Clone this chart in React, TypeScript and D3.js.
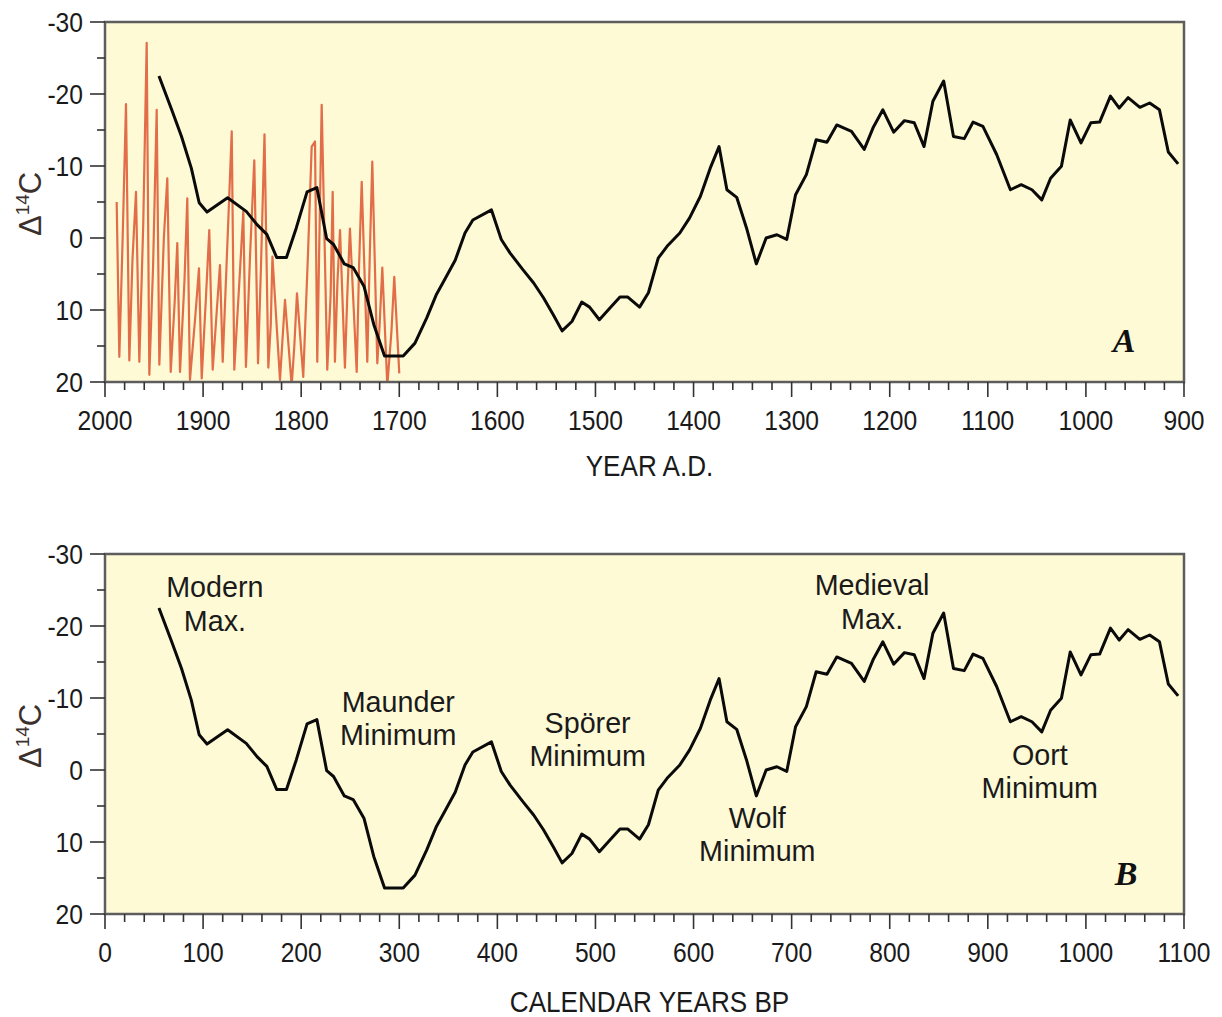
import React from "react";
import * as d3 from "d3";

// Smoothed Δ14C record (calendar years BP, per mil)
const bpYears = [55, 68, 78, 88, 96, 104, 125, 144, 155, 165, 175, 185, 195, 206, 216, 226, 233, 244, 253, 264, 274, 285, 304, 316, 328, 338, 347, 357, 367, 375, 394, 404, 413, 426, 437, 447, 457, 466, 476, 486, 494, 504, 515, 525, 533, 545, 554, 564, 573, 586, 596, 607, 617, 626, 634, 644, 654, 664, 674, 685, 695, 704, 715, 725, 736, 746, 761, 774, 783, 793, 804, 815, 825, 835, 844, 855, 865, 876, 885, 895, 909, 923, 934, 945, 955, 964, 975, 984, 995, 1005, 1014, 1025, 1034, 1043, 1055, 1065, 1075, 1084, 1094];
const delta14C = [-22.5, -17.8, -14.1, -9.7, -4.9, -3.6, -5.6, -3.7, -1.85, -0.5, 2.7, 2.7, -1.4, -6.4, -7.0, 0.1, 0.9, 3.6, 4.1, 6.7, 12.0, 16.4, 16.4, 14.6, 11.1, 7.8, 5.6, 3.1, -0.7, -2.5, -3.9, 0.2, 2.1, 4.4, 6.25, 8.3, 10.65, 12.9, 11.6, 8.9, 9.6, 11.35, 9.7, 8.2, 8.2, 9.6, 7.6, 2.8, 1.15, -0.7, -2.8, -5.8, -9.7, -12.7, -6.7, -5.65, -1.4, 3.6, 0.0, -0.45, 0.2, -6.0, -8.8, -13.65, -13.3, -15.7, -14.8, -12.3, -15.3, -17.8, -14.7, -16.3, -16.0, -12.7, -19.0, -21.8, -14.1, -13.8, -16.1, -15.5, -11.6, -6.7, -7.4, -6.7, -5.3, -8.3, -9.95, -16.4, -13.2, -16.0, -16.1, -19.7, -18.05, -19.5, -18.15, -18.75, -17.8, -11.95, -10.3];

// Annual-resolution record (years A.D.)
const redYears = [1988.1, 1985.4, 1982.0, 1978.6, 1975.2, 1972.0, 1968.4, 1965.0, 1961.0, 1957.5, 1954.8, 1951.0, 1947.3, 1944.6, 1940.0, 1936.5, 1933.0, 1929.0, 1926.3, 1923.5, 1919.0, 1916.1, 1913.4, 1908.0, 1904.2, 1901.4, 1897.0, 1893.7, 1890.2, 1886.0, 1882.8, 1880.0, 1875.0, 1870.8, 1868.2, 1863.0, 1859.0, 1856.3, 1852.0, 1847.8, 1844.0, 1841.0, 1837.4, 1833.5, 1831.0, 1829.3, 1821.6, 1819.0, 1816.5, 1809.7, 1807.0, 1804.3, 1797.9, 1793.0, 1789.3, 1785.9, 1783.6, 1779.1, 1773.4, 1770.0, 1767.9, 1765.6, 1763.0, 1760.4, 1755.4, 1753.0, 1750.3, 1743.4, 1741.0, 1738.3, 1732.6, 1730.0, 1727.5, 1722.4, 1720.0, 1717.3, 1712.2, 1708.0, 1705.1, 1700.0];
const redValues = [-5.0, 16.5, 0.0, -18.6, 17.0, 3.0, -6.4, 17.2, -2.0, -27.1, 19.0, 4.0, -17.8, 17.6, 0.0, -8.3, 18.6, 9.0, 0.7, 18.6, 6.0, -5.5, 19.7, 11.0, 4.2, 19.5, 8.0, -1.1, 18.3, 10.0, 3.75, 17.2, 0.0, -14.8, 18.3, 6.0, -3.7, 17.9, 2.0, -10.8, 17.4, 4.0, -14.4, 18.0, 12.0, 2.6, 19.7, 14.0, 8.6, 20.5, 15.0, 7.7, 19.3, 2.0, -12.7, -13.4, 17.2, -18.5, 18.3, 8.0, -6.4, 17.2, 6.0, -1.1, 18.0, 8.0, -1.3, 18.6, 4.0, -7.8, 17.2, 2.0, -10.6, 17.4, 12.0, 4.1, 20.5, 13.0, 5.4, 18.8];

const yTicks = [-30, -20, -10, 0, 10, 20];
const yMinor = d3.range(-30, 20.01, 5);
const adTicks = [2000, 1900, 1800, 1700, 1600, 1500, 1400, 1300, 1200, 1100, 1000, 900];
const bpTicks = [0, 100, 200, 300, 400, 500, 600, 700, 800, 900, 1000, 1100];
const annotations = [
  { lines: ["Modern", "Max."], bp: 112, v: -24.0 },
  { lines: ["Maunder", "Minimum"], bp: 299, v: -8.1 },
  { lines: ["Spörer", "Minimum"], bp: 492, v: -5.2 },
  { lines: ["Wolf", "Minimum"], bp: 665, v: 8.0 },
  { lines: ["Medieval", "Max."], bp: 782, v: -24.3 },
  { lines: ["Oort", "Minimum"], bp: 953, v: -0.7 },
];

const FONT = "'Liberation Sans', Arial, sans-serif";
const BG = "#FFFAD6";
const L = 105, R = 1184;
const INK = "#1a1a1a";

function Txt({ x, y, size, sx = 0.88, anchor = "middle", children, fill = INK }) {
  return (
    <text transform={`translate(${x},${y}) scale(${sx},1)`} textAnchor={anchor} fontFamily={FONT} fontSize={size} fill={fill}>
      {children}
    </text>
  );
}

function Panel({ top, bottom, xScale, ticks, minorStep, title, titleY, letter, children, id }) {
  const y = d3.scaleLinear().domain([-30, 20]).range([top, bottom]);
  const [d0, d1] = xScale.domain();
  const minor = d3.range(Math.min(d0, d1), Math.max(d0, d1) + 0.01, minorStep);
  return (
    <g>
      <defs>
        <clipPath id={id}>
          <rect x={L} y={top} width={R - L} height={bottom - top} />
        </clipPath>
      </defs>
      <rect x={L} y={top} width={R - L} height={bottom - top} fill={BG} />
      <g clipPath={`url(#${id})`}>{children(y)}</g>
      <rect x={L} y={top} width={R - L} height={bottom - top} fill="none" stroke="#5d5d5d" strokeWidth={2.5} />
      {yMinor.map((t) => (
        <line key={"ym" + t} x1={L - (t % 10 === 0 ? 15 : 8)} x2={L} y1={y(t)} y2={y(t)} stroke="#333" strokeWidth={1.6} />
      ))}
      {yTicks.map((t) => (
        <Txt key={"yt" + t} x={83} y={y(t) + 10} size={28} anchor="end">
          {t < 0 ? "-" + Math.abs(t) : String(t)}
        </Txt>
      ))}
      {minor.map((t) => (
        <line key={"xm" + t} x1={xScale(t)} x2={xScale(t)} y1={bottom} y2={bottom + (t % 100 === 0 ? 15 : 8)} stroke="#333" strokeWidth={1.6} />
      ))}
      {ticks.map((t) => (
        <Txt key={"xt" + t} x={xScale(t)} y={bottom + 48} size={28}>
          {t}
        </Txt>
      ))}
      <Txt x={(L + R) / 2 + 5} y={titleY} size={29} sx={0.9}>
        {title}
      </Txt>
      <text transform={`translate(41, ${(top + bottom) / 2 + 34}) rotate(-90)`} fontFamily={FONT} fontSize={31} fill="#3b302c">
        Δ<tspan fontSize={19} dy={-12}>14</tspan><tspan dy={12}>C</tspan>
      </text>
      <text x={letter.x} y={letter.y} textAnchor="middle" fontFamily="'Liberation Serif', 'Times New Roman', serif" fontStyle="italic" fontWeight="bold" fontSize={34} fill="#111">
        {letter.t}
      </text>
    </g>
  );
}

export default function App() {
  const xA = d3.scaleLinear().domain([2000, 900]).range([L, R]);
  const xB = d3.scaleLinear().domain([0, 1100]).range([L, R]);
  const blackPts = bpYears.map((b, i) => [b, delta14C[i]]);
  const redPts = redYears.map((yr, i) => [yr, redValues[i]]);

  return (
    <svg width={1222} height={1017} style={{ position: "absolute", left: 0, top: 0, background: "#fff" }}>
      <Panel id="clipA" top={22} bottom={382} xScale={xA} ticks={adTicks} minorStep={20} title="YEAR A.D." titleY={476} letter={{ t: "A", x: 1124, y: 352 }}>
        {(y) => (
          <g>
            <path d={d3.line().x((d) => xA(d[0])).y((d) => y(d[1]))(redPts)} fill="none" stroke="#DE5D3A" strokeWidth={2.2} strokeLinejoin="round" opacity={0.9} />
            <path d={d3.line().x((d) => xA(2000 - d[0])).y((d) => y(d[1]))(blackPts)} fill="none" stroke="#0a0a0a" strokeWidth={3} strokeLinejoin="round" />
          </g>
        )}
      </Panel>
      <Panel id="clipB" top={554} bottom={914} xScale={xB} ticks={bpTicks} minorStep={20} title="CALENDAR YEARS BP" titleY={1012} letter={{ t: "B", x: 1126, y: 885 }}>
        {(y) => (
          <g>
            <path d={d3.line().x((d) => xB(d[0])).y((d) => y(d[1]))(blackPts)} fill="none" stroke="#0a0a0a" strokeWidth={3} strokeLinejoin="round" />
            {annotations.map((a) => (
              <text key={a.lines[0]} transform={`translate(${xB(a.bp)},${y(a.v)}) scale(0.99,1)`} textAnchor="middle" fontFamily={FONT} fontSize={29} fill={INK}>
                {a.lines.map((ln, i) => (
                  <tspan key={i} x={0} dy={i === 0 ? 0 : 33.5}>{ln}</tspan>
                ))}
              </text>
            ))}
          </g>
        )}
      </Panel>
    </svg>
  );
}
